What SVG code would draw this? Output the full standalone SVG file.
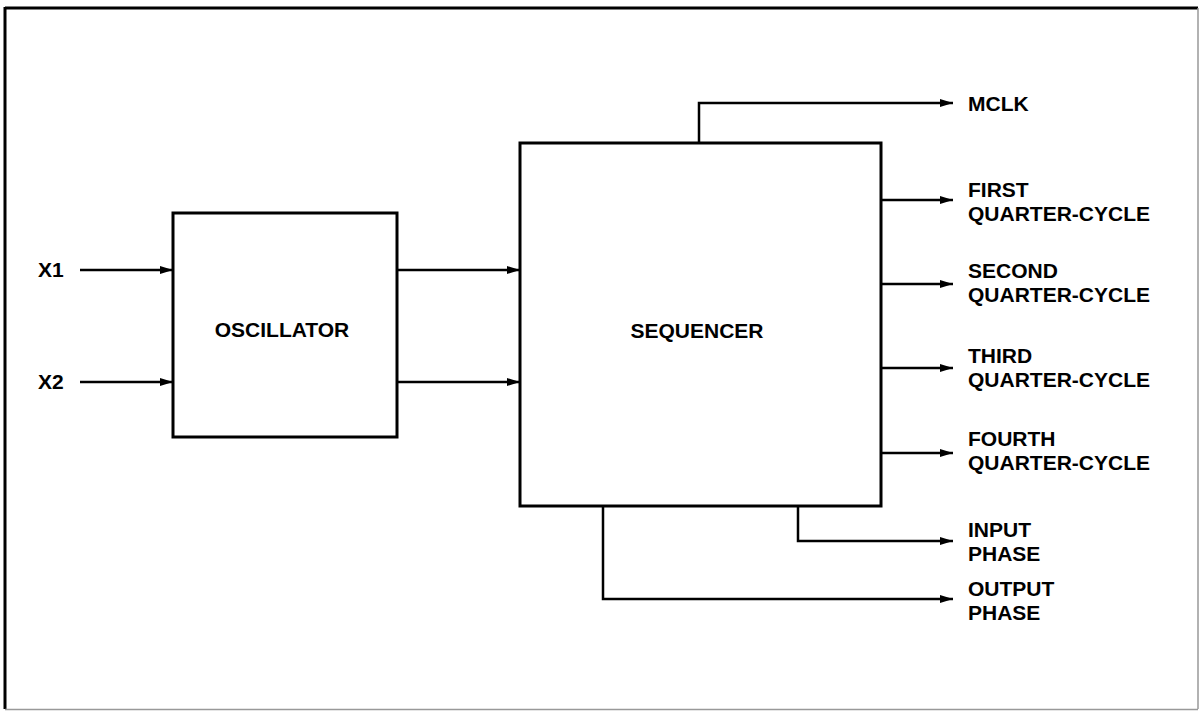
<svg xmlns="http://www.w3.org/2000/svg" width="1200" height="711" viewBox="0 0 1200 711">
<style>
  .box { fill: #fff; stroke: #000; stroke-width: 3; }
  .wire { fill: none; stroke: #000; stroke-width: 2.5; marker-end: url(#arr); }
  .lbl { font-family: "Liberation Sans", Arial, sans-serif; font-weight: bold; font-size: 21px; fill: #000; }
</style>
<defs>
  <marker id="arr" markerUnits="userSpaceOnUse" markerWidth="14" markerHeight="10" refX="13" refY="5" orient="auto">
    <path d="M0,1 L13,5 L0,9 z" fill="#000"/>
  </marker>
</defs>
<rect x="0" y="0" width="1200" height="711" fill="#fff"/>
<g id="frame">
  <line x1="5" y1="8" x2="1198" y2="8" stroke="#000" stroke-width="3"/>
  <line x1="5" y1="7" x2="5" y2="709" stroke="#000" stroke-width="3"/>
  <line x1="1198" y1="8" x2="1198" y2="709" stroke="#999" stroke-width="1.5"/>
  <line x1="5" y1="709.5" x2="1198" y2="709.5" stroke="#999" stroke-width="1.5"/>
</g>
<g id="connectors">
  <line class="wire" x1="80" y1="270" x2="173" y2="270"/>
  <line class="wire" x1="80" y1="382" x2="173" y2="382"/>
  <line class="wire" x1="397" y1="270" x2="520" y2="270"/>
  <line class="wire" x1="397" y1="382" x2="520" y2="382"/>
  <polyline class="wire" points="699,143 699,103 953,103"/>
  <line class="wire" x1="881" y1="200" x2="953" y2="200"/>
  <line class="wire" x1="881" y1="284" x2="953" y2="284"/>
  <line class="wire" x1="881" y1="368" x2="953" y2="368"/>
  <line class="wire" x1="881" y1="453" x2="953" y2="453"/>
  <polyline class="wire" points="798,506 798,541 953,541"/>
  <polyline class="wire" points="603,506 603,599 953,599"/>
</g>
<g id="oscillator">
  <rect class="box" x="173" y="213" width="224" height="224"/>
  <text class="lbl" x="282" y="337" text-anchor="middle">OSCILLATOR</text>
</g>
<g id="sequencer">
  <rect class="box" x="520" y="143" width="361" height="363"/>
  <text class="lbl" x="697" y="338" text-anchor="middle">SEQUENCER</text>
</g>
<g id="inputs">
  <text class="lbl" x="38" y="277">X1</text>
  <text class="lbl" x="38" y="389">X2</text>
</g>
<g id="outputs">
  <text class="lbl" x="968" y="111">MCLK</text>
  <text class="lbl" x="968" y="197">FIRST</text>
  <text class="lbl" x="968" y="221">QUARTER-CYCLE</text>
  <text class="lbl" x="968" y="278">SECOND</text>
  <text class="lbl" x="968" y="302">QUARTER-CYCLE</text>
  <text class="lbl" x="968" y="363">THIRD</text>
  <text class="lbl" x="968" y="387">QUARTER-CYCLE</text>
  <text class="lbl" x="968" y="446">FOURTH</text>
  <text class="lbl" x="968" y="470">QUARTER-CYCLE</text>
  <text class="lbl" x="968" y="537">INPUT</text>
  <text class="lbl" x="968" y="561">PHASE</text>
  <text class="lbl" x="968" y="596">OUTPUT</text>
  <text class="lbl" x="968" y="620">PHASE</text>
</g>
</svg>
